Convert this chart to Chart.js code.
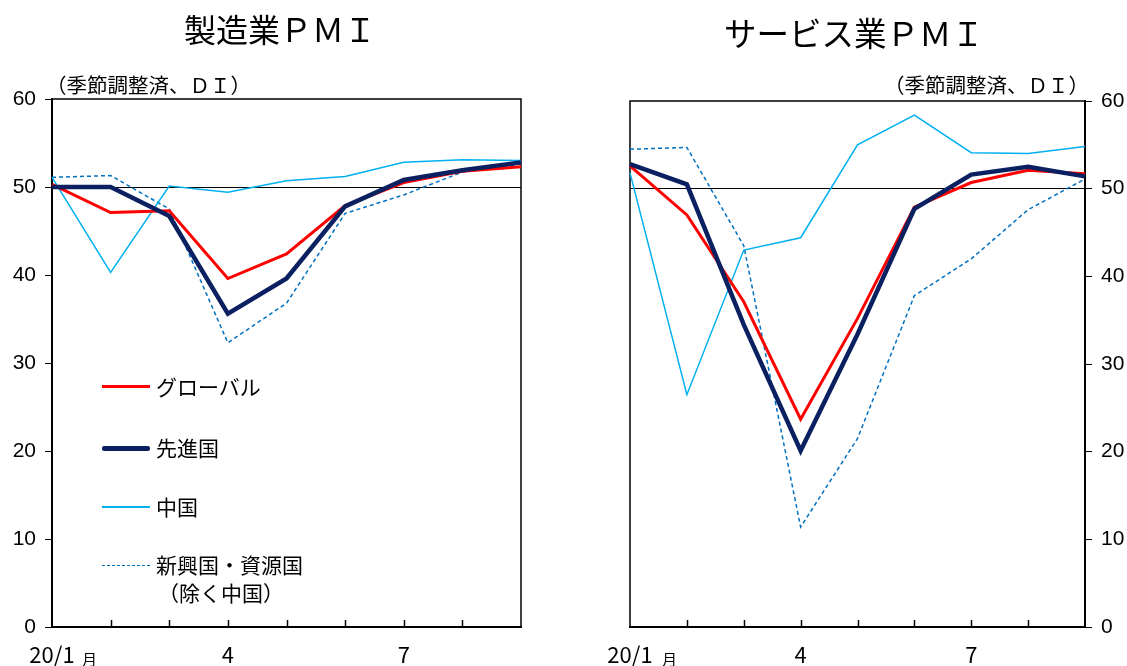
<!DOCTYPE html>
<html>
<head>
<meta charset="utf-8">
<script src="https://cdn.jsdelivr.net/npm/chart.js@4.4.1/dist/chart.umd.min.js"></script>
<style>
body { margin: 0; background: #fff; width: 1127px; height: 666px; position: relative; overflow: hidden; font-family: "Noto Sans CJK JP", sans-serif; color: #000; }
.box { position: absolute; top: 0; }
.t { position: absolute; white-space: nowrap; }
.ln { position: absolute; left: 102px; width: 48px; }
</style>
</head>
<body>
<div class="box" style="left:0"><canvas id="mfg" width="560" height="666"></canvas></div>
<div class="box" style="left:570px"><canvas id="svc" width="557" height="666"></canvas></div>

<div class="t" style="left:184px;top:12px;font-size:32px;line-height:32px">製造業ＰＭＩ</div>
<div class="t" style="left:724px;top:16px;font-size:32.5px;line-height:32px">サービス業ＰＭＩ</div>
<div class="t" style="left:46px;top:74px;font-size:20.5px;line-height:21px">（季節調整済、ＤＩ）</div>
<div class="t" style="right:38px;top:74px;font-size:20.5px;line-height:21px">（季節調整済、ＤＩ）</div>
<div class="t" style="left:82px;top:651px;font-size:15px;line-height:15px">月</div>
<div class="t" style="left:662px;top:651px;font-size:15px;line-height:15px">月</div>

<!-- 凡例 -->
<div class="ln" style="top:385px;height:3px;background:#ff0000"></div>
<div class="t" style="left:156px;top:376px;font-size:21px;line-height:21px">グローバル</div>
<div class="ln" style="top:446px;height:5px;background:#0b2060;border-radius:2px"></div>
<div class="t" style="left:156px;top:437px;font-size:21px;line-height:21px">先進国</div>
<div class="ln" style="top:506px;height:1.5px;background:#00b0f0"></div>
<div class="t" style="left:156px;top:496px;font-size:21px;line-height:21px">中国</div>
<div class="ln" style="top:565px;height:0;border-top:1.5px dashed #0070c0"></div>
<div class="t" style="left:156px;top:554px;font-size:21px;line-height:21px">新興国・資源国</div>
<div class="t" style="left:158px;top:582px;font-size:21px;line-height:21px">（除く中国）</div>

<script>
// 月（20/1〜20/9）
const months = ["20/1", "", "", "4", "", "", "7", "", ""];

// 製造業PMI
const mfgGlobal   = [50.3, 47.1, 47.3, 39.6, 42.4, 47.9, 50.5, 51.8, 52.3];
const mfgAdvanced = [50.0, 50.0, 46.7, 35.6, 39.6, 47.8, 50.8, 51.9, 52.8];
const mfgChina    = [51.1, 40.3, 50.1, 49.4, 50.7, 51.2, 52.8, 53.1, 53.0];
const mfgEmerging = [51.1, 51.3, 47.5, 32.3, 36.8, 47.0, 49.1, 51.7, 52.6];

// サービス業PMI
const svcGlobal   = [52.6, 47.0, 37.1, 23.7, 35.2, 47.9, 50.7, 52.1, 51.7];
const svcAdvanced = [52.8, 50.5, 34.5, 20.1, 33.4, 47.7, 51.6, 52.5, 51.4];
const svcChina    = [51.8, 26.5, 43.0, 44.4, 55.0, 58.4, 54.1, 54.0, 54.8];
const svcEmerging = [54.5, 54.7, 43.5, 11.4, 21.5, 37.8, 42.0, 47.6, 51.1];

const yMin = 0, yMax = 60, yStep = 10;
const refLine = 50;

// 枠と内向きの目盛り
const frame = {
    id: 'frame',
    beforeDatasetsDraw(chart) {
        const { ctx, chartArea: a } = chart;
        const x = chart.scales.x;
        ctx.save();
        ctx.strokeStyle = '#000';
        ctx.lineWidth = 1.5;
        ctx.strokeRect(a.left, a.top, a.width, a.height);
        for (let i = 1; i < months.length - 1; i++) {
            const px = Math.round(x.getPixelForValue(i)) + 0.5;
            ctx.beginPath();
            ctx.moveTo(px, a.bottom);
            ctx.lineTo(px, a.bottom - 7);
            ctx.stroke();
        }
        ctx.restore();
    }
};

function series(g, adv, cn, em) {
    return [
        { data: adv, borderColor: '#0b2060', borderWidth: 4.5, order: 1 },
        { data: g, borderColor: '#ff0000', borderWidth: 3, order: 2 },
        { data: cn, borderColor: '#00b0f0', borderWidth: 1.5, order: 3 },
        { data: em, borderColor: '#0070c0', borderWidth: 1.5, borderDash: [4, 3], order: 4 }
    ];
}

function makeChart(id, sets, side, pad, yWidth) {
    new Chart(document.getElementById(id).getContext('2d'), {
        type: 'line',
        data: { labels: months, datasets: sets },
        options: {
            responsive: false,
            animation: false,
            layout: { padding: pad },
            elements: { point: { radius: 0 }, line: { tension: 0, fill: false } },
            plugins: { legend: { display: false }, tooltip: { enabled: false } },
            scales: {
                x: {
                    type: 'category',
                    offset: false,
                    grid: { drawOnChartArea: false, drawTicks: false },
                    border: { color: '#000', width: 2 },
                    ticks: {
                        autoSkip: false, maxRotation: 0, padding: 14, color: '#000',
                        font: { family: 'Noto Sans CJK JP', size: 22 }
                    },
                    afterFit(s) { s.height = 39; }
                },
                y: {
                    position: side,
                    min: yMin, max: yMax,
                    grid: {
                        color: c => (c.tick && c.tick.value === refLine) ? '#000' : 'rgba(0,0,0,0)',
                        tickColor: '#000', tickLength: 7, lineWidth: 1
                    },
                    border: { color: '#000', width: 2 },
                    ticks: {
                        stepSize: yStep, padding: 9, color: '#000',
                        font: { family: 'Liberation Sans', size: 21 }
                    },
                    afterFit(s) { s.width = yWidth; }
                }
            }
        },
        plugins: [frame]
    });
}

makeChart('mfg', series(mfgGlobal, mfgAdvanced, mfgChina, mfgEmerging), 'left',
    { left: 0, top: 99, right: 39, bottom: 0 }, 52);
makeChart('svc', series(svcGlobal, svcAdvanced, svcChina, svcEmerging), 'right',
    { left: 60, top: 101, right: 0, bottom: 0 }, 42);
</script>
</body>
</html>
